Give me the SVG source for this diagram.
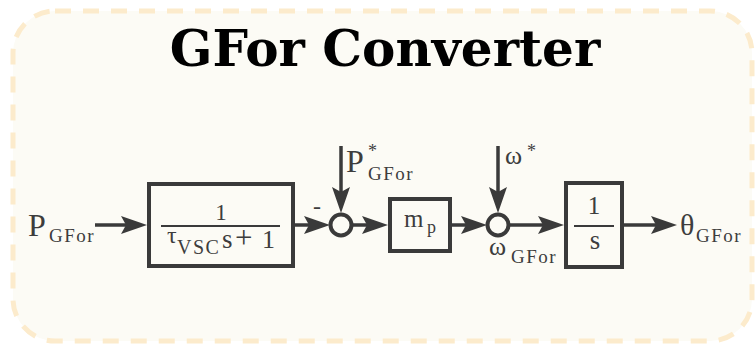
<svg xmlns="http://www.w3.org/2000/svg" width="756" height="346" viewBox="0 0 756 346">
  <style>
    .blk { fill: none; stroke: #3a3a3a; stroke-width: 4; }
    .sum { fill: #fcfbf5; stroke: #3a3a3a; stroke-width: 4; }
    .wire { fill: none; stroke: #3a3a3a; stroke-width: 3.5; marker-end: url(#head); }
    .bar { stroke: #3a3a3a; stroke-width: 2; }
    .m { font-family: "Liberation Serif", "DejaVu Serif", serif; fill: #3d3d3d; }
    .sub { font-size: 19px; letter-spacing: 1.5px; }
    .title { font-family: "DejaVu Serif", "Liberation Serif", serif; font-weight: bold; font-size: 50px; fill: #000; }
  </style>
  <defs>
    <marker id="head" markerUnits="userSpaceOnUse" markerWidth="30" markerHeight="20" viewBox="0 -10 30 20" refX="5" refY="0" orient="auto" overflow="visible">
      <path d="M0,-9 L26,0 L0,9 L5,0 Z" fill="#3a3a3a"/>
    </marker>
  </defs>

  <!-- panel -->
  <rect x="13" y="11" width="739" height="330" rx="42" ry="42" fill="#fcfbf5" stroke="#fcebcc" stroke-width="5" stroke-dasharray="16 12"/>
  <text class="title" x="385" y="66" text-anchor="middle">GFor Converter</text>

  <!-- connectors -->
  <g id="connectors">
    <line class="wire" x1="95" y1="225" x2="126" y2="225"/>
    <line class="wire" x1="295" y1="225" x2="309" y2="225"/>
    <line class="wire" x1="352" y1="225" x2="367" y2="225"/>
    <line class="wire" x1="452" y1="225" x2="466" y2="225"/>
    <line class="wire" x1="509" y1="225" x2="543" y2="225"/>
    <line class="wire" x1="624" y1="225" x2="656" y2="225"/>
    <line class="wire" x1="341" y1="146" x2="341" y2="192"/>
    <line class="wire" x1="498" y1="146" x2="498" y2="192"/>
  </g>

  <!-- input -->
  <g id="in-p">
    <text class="m" x="28" y="236" font-size="32">P</text>
    <text class="m sub" x="49" y="242">GFor</text>
  </g>

  <!-- first-order lag -->
  <g id="lag">
    <rect class="blk" x="149" y="184" width="144" height="82"/>
    <text class="m" x="221" y="220" font-size="23" text-anchor="middle">1</text>
    <line class="bar" x1="161" y1="226" x2="280" y2="226"/>
    <text class="m" x="167" y="243" font-size="24">τ</text>
    <text class="m" x="177" y="254" font-size="20" letter-spacing="1.5">VSC</text>
    <text class="m" x="222" y="248" font-size="27">s</text>
    <text class="m" x="235" y="248" font-size="31">+</text>
    <text class="m" x="262" y="248" font-size="26">1</text>
  </g>

  <!-- power error summation -->
  <g id="sum-p">
    <circle class="sum" cx="341" cy="225" r="10.5"/>
    <text class="m" x="317" y="214" font-size="24" text-anchor="middle">-</text>
    <text class="m" x="346" y="172" font-size="32">P</text>
    <text class="m" x="368" y="157" font-size="18">*</text>
    <text class="m sub" x="368" y="180">GFor</text>
  </g>

  <!-- droop gain -->
  <g id="droop">
    <rect class="blk" x="390" y="199" width="60" height="52"/>
    <text class="m" x="404" y="227" font-size="25">m</text>
    <text class="m" x="427" y="233" font-size="18">p</text>
  </g>

  <!-- frequency summation -->
  <g id="sum-w">
    <circle class="sum" cx="498" cy="225" r="10.5"/>
    <text class="m" x="505" y="164" font-size="26">ω</text>
    <text class="m" x="527" y="157" font-size="18">*</text>
    <text class="m" x="489" y="255" font-size="26">ω</text>
    <text class="m sub" x="511" y="263">GFor</text>
  </g>

  <!-- integrator -->
  <g id="integrator">
    <rect class="blk" x="566" y="183" width="56" height="84"/>
    <text class="m" x="594" y="214" font-size="25" text-anchor="middle">1</text>
    <line class="bar" x1="574" y1="226" x2="614" y2="226"/>
    <text class="m" x="595" y="249" font-size="27" text-anchor="middle">s</text>
  </g>

  <!-- output -->
  <g id="out-theta">
    <text class="m" x="680" y="235" font-size="30">θ</text>
    <text class="m sub" x="696" y="242">GFor</text>
  </g>
</svg>
